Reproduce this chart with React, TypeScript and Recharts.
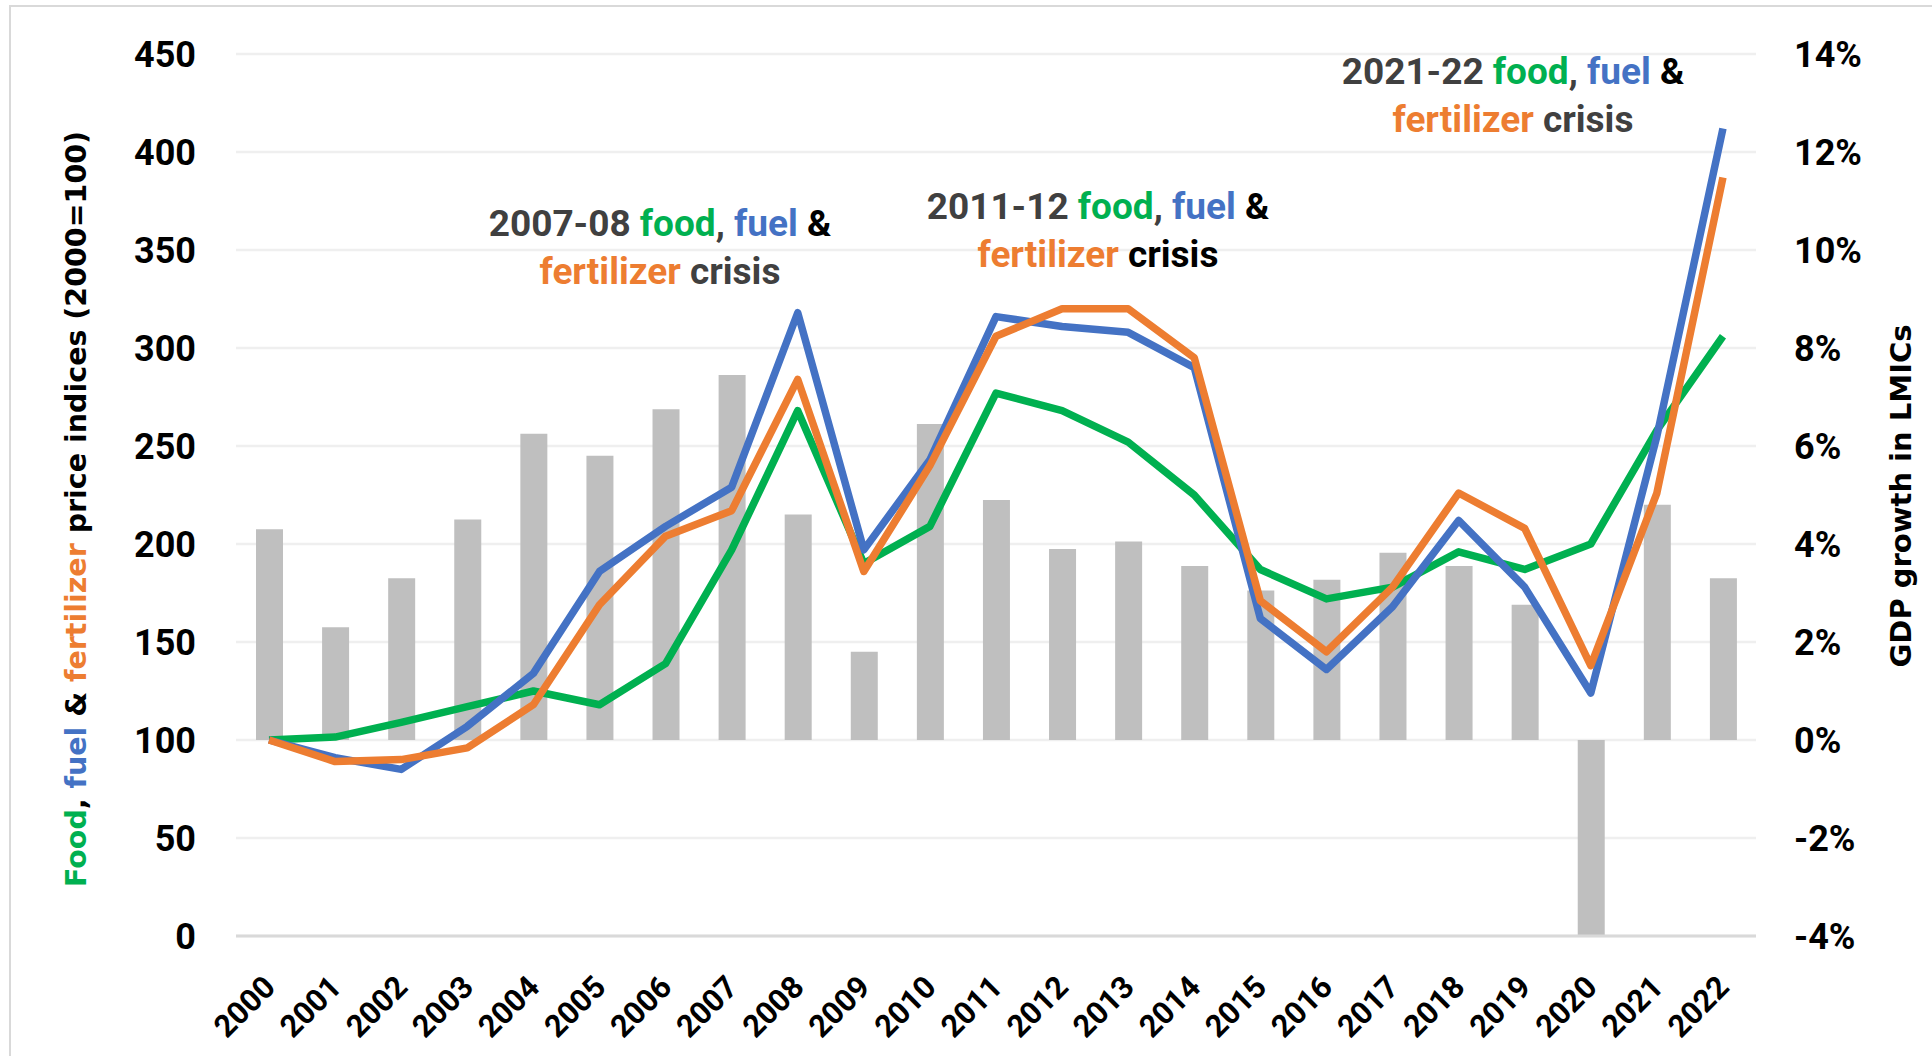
import React from 'react';
import { ComposedChart, Bar, Line, XAxis, YAxis, CartesianGrid } from 'recharts';

const years = ['2000', '2001', '2002', '2003', '2004', '2005', '2006', '2007', '2008', '2009', '2010', '2011', '2012', '2013', '2014', '2015', '2016', '2017', '2018', '2019', '2020', '2021', '2022'];
const foodIndex = [100, 101.5, 109, 117, 125, 118, 139, 197, 268, 190, 209, 277, 268, 252, 225, 187, 172, 178, 196, 187, 200, 258, 306];
const fuelIndex = [100, 91, 85, 107, 134, 186, 209, 229, 318, 197, 243, 316, 311, 308, 290, 162, 136, 168, 212, 178, 124, 255, 412];
const fertilizerIndex = [100, 89, 90, 96, 118, 169, 204, 217, 284, 186, 240, 306, 320, 320, 295, 171, 145, 178, 226, 208, 138, 226, 387];
const gdpGrowth = [4.3, 2.3, 3.3, 4.5, 6.25, 5.8, 6.75, 7.45, 4.6, 1.8, 6.45, 4.9, 3.9, 4.05, 3.55, 3.05, 3.27, 3.82, 3.55, 2.76, -3.98, 4.8, 3.3];

const leftTicks = [0, 50, 100, 150, 200, 250, 300, 350, 400, 450];
const rightTicks = [-4, -2, 0, 2, 4, 6, 8, 10, 12, 14];

const GREEN = '#00B050';
const BLUE = '#4472C4';
const ORANGE = '#ED7D31';
const GREY_BAR = '#BFBFBF';
const DARK = '#404040';

const W = 1932;
const H = 1056;
const LABEL_FONT = 'Roboto, "Noto Sans", sans-serif';
const TITLE_FONT = '"DejaVu Sans", Verdana, sans-serif';

const rows = years.map((year, i) => ({
  year,
  food: foodIndex[i],
  fuel: fuelIndex[i],
  fertilizer: fertilizerIndex[i],
  gdp: gdpGrowth[i],
}));

// crisis call-outs: centre x, first baseline, colour of the "crisis" word
const crises = [
  { label: '2007-08', x: 660, y: 236, tail: DARK },
  { label: '2011-12', x: 1098, y: 219, tail: '#000' },
  { label: '2021-22', x: 1513, y: 84, tail: DARK },
];

const LeftTick = (props: any) => {
  const { x, y, payload } = props;
  return (
    <text x={x} y={y} dy="0.36em" textAnchor="end" fontFamily={LABEL_FONT} fontWeight={700} fontSize={36} fill="#000">
      {payload.value}
    </text>
  );
};

const RightTick = (props: any) => {
  const { x, y, payload } = props;
  return (
    <text x={x} y={y} dy="0.36em" textAnchor="start" fontFamily={LABEL_FONT} fontWeight={700} fontSize={36} fill="#000">
      {`${payload.value}%`}
    </text>
  );
};

const YearTick = (props: any) => {
  const { x, y, payload } = props;
  return (
    <g transform={`translate(${x + 8},${y + 51})`}>
      <text textAnchor="end" transform="rotate(-45)" fontFamily={LABEL_FONT} fontWeight={700} fontSize={31} fill="#000">
        {payload.value}
      </text>
    </g>
  );
};

export default function App() {
  return (
    <div style={{ position: 'absolute', left: 0, top: 0, width: W, height: H, background: '#fff' }}>
      <ComposedChart width={W} height={H} data={rows} margin={{ top: 54, right: 0, bottom: 0, left: 0 }}>
        <CartesianGrid yAxisId="left" vertical={false} stroke="#EFEFEF" strokeWidth={2.5} />
        <XAxis
          dataKey="year"
          interval={0}
          height={120}
          tickLine={false}
          tickSize={0}
          axisLine={{ stroke: '#D9D9D9', strokeWidth: 3 }}
          tick={<YearTick />}
        />
        <YAxis
          yAxisId="left"
          width={236}
          domain={[0, 450]}
          ticks={leftTicks}
          axisLine={false}
          tickLine={false}
          tickSize={0}
          tickMargin={40}
          tick={<LeftTick />}
        />
        <YAxis
          yAxisId="right"
          orientation="right"
          width={176}
          domain={[-4, 14]}
          ticks={rightTicks}
          axisLine={false}
          tickLine={false}
          tickSize={0}
          tickMargin={38}
          tick={<RightTick />}
        />
        <Bar yAxisId="right" dataKey="gdp" fill={GREY_BAR} barSize={27} isAnimationActive={false} />
        <Line yAxisId="left" type="linear" dataKey="food" stroke={GREEN} strokeWidth={7.5} strokeLinejoin="round" dot={false} isAnimationActive={false} />
        <Line yAxisId="left" type="linear" dataKey="fuel" stroke={BLUE} strokeWidth={7.5} strokeLinejoin="round" dot={false} isAnimationActive={false} />
        <Line yAxisId="left" type="linear" dataKey="fertilizer" stroke={ORANGE} strokeWidth={7.5} strokeLinejoin="round" dot={false} isAnimationActive={false} />
      </ComposedChart>

      <svg width={W} height={H} style={{ position: 'absolute', left: 0, top: 0, pointerEvents: 'none' }}>
        <rect x={10} y={6} width={W} height={H} fill="none" stroke="#D9D9D9" strokeWidth={2} />

        <text
          transform="translate(76,509) rotate(-90)"
          textAnchor="middle"
          dominantBaseline="central"
          fontFamily={TITLE_FONT}
          fontWeight={700}
          fontSize={28.5}
          style={{ whiteSpace: 'pre' }}
        >
          <tspan fill={GREEN}>Food</tspan>
          <tspan fill="#000">, </tspan>
          <tspan fill={BLUE}>fuel</tspan>
          <tspan fill="#000"> &amp; </tspan>
          <tspan fill={ORANGE}>fertilizer</tspan>
          <tspan fill="#000"> price indices (2000=100)</tspan>
        </text>

        <text
          transform="translate(1901,496) rotate(-90)"
          textAnchor="middle"
          dominantBaseline="central"
          fontFamily={TITLE_FONT}
          fontWeight={700}
          fontSize={29}
          fill="#000"
        >
          GDP growth in LMICs
        </text>

        {crises.map((c) => (
          <g key={c.label} fontFamily={LABEL_FONT} fontWeight={700} fontSize={37} style={{ whiteSpace: 'pre' }}>
            <text x={c.x} y={c.y} textAnchor="middle">
              <tspan fill={DARK}>{c.label} </tspan>
              <tspan fill={GREEN}>food</tspan>
              <tspan fill={DARK}>, </tspan>
              <tspan fill={BLUE}>fuel</tspan>
              <tspan fill="#000"> &amp;</tspan>
            </text>
            <text x={c.x} y={c.y + 48} textAnchor="middle">
              <tspan fill={ORANGE}>fertilizer</tspan>
              <tspan fill={c.tail}> crisis</tspan>
            </text>
          </g>
        ))}
      </svg>
    </div>
  );
}
